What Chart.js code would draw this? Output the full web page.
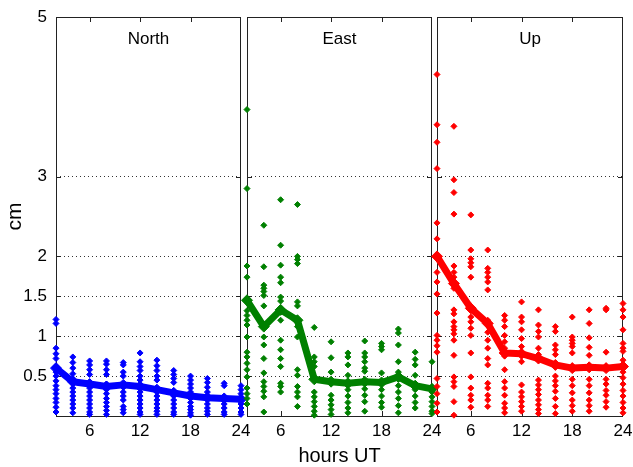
<!DOCTYPE html>
<html>
<head>
<meta charset="utf-8">
<script src="https://cdn.jsdelivr.net/npm/chart.js@4"></script>
<style>
  body { margin: 0; background: #fff; }
  #wrap { position: relative; width: 633px; height: 467px; }
  #wrap canvas { position: absolute; left: 0; top: 0; }
</style>
</head>
<body>
<div id="wrap">
  <canvas id="chart1" width="633" height="467"></canvas>
  <canvas id="chart2" width="633" height="467"></canvas>
  <canvas id="chart3" width="633" height="467"></canvas>
</div>
<script>
const hours = [2, 4, 6, 8, 10, 12, 14, 16, 18, 20, 22, 24];
const xTicks = [6, 12, 18, 24];
const yTicks = [0.5, 1, 1.5, 2, 3, 5];
const panelNames = ['North', 'East', 'Up'];

const northMean = [0.60, 0.43, 0.40, 0.37, 0.39, 0.37, 0.33, 0.29, 0.25, 0.23, 0.22, 0.21];
const eastMean = [1.45, 1.12, 1.33, 1.20, 0.46, 0.43, 0.41, 0.43, 0.42, 0.49, 0.38, 0.34];
const upMean = [2.00, 1.66, 1.35, 1.16, 0.79, 0.78, 0.72, 0.64, 0.60, 0.61, 0.60, 0.62];

// single samples per hour
const northSpread = [
  [1.21, 1.16, 0.85, 0.78, 0.72, 0.62, 0.55, 0.5, 0.44, 0.38, 0.33, 0.28, 0.22, 0.17, 0.11, 0.05],
  [0.74, 0.67, 0.6, 0.53, 0.47, 0.41, 0.35, 0.3, 0.25, 0.2, 0.15, 0.1, 0.04],
  [0.69, 0.64, 0.58, 0.52, 0.4, 0.35, 0.3, 0.25, 0.2, 0.15, 0.1, 0.05, 0.02],
  [0.69, 0.65, 0.58, 0.52, 0.4, 0.33, 0.28, 0.22, 0.17, 0.12, 0.07, 0.02],
  [0.67, 0.64, 0.55, 0.5, 0.36, 0.3, 0.25, 0.2, 0.12, 0.08, 0.04],
  [0.79, 0.68, 0.62, 0.57, 0.5, 0.45, 0.3, 0.25, 0.2, 0.15, 0.1, 0.05, 0.02],
  [0.7, 0.63, 0.57, 0.5, 0.45, 0.25, 0.2, 0.15, 0.1, 0.06, 0.02],
  [0.57, 0.52, 0.47, 0.42, 0.25, 0.2, 0.15, 0.1, 0.05, 0.02],
  [0.5, 0.45, 0.4, 0.35, 0.3, 0.17, 0.12, 0.08, 0.04, 0.01],
  [0.47, 0.42, 0.36, 0.3, 0.15, 0.1, 0.06, 0.02],
  [0.41, 0.38, 0.15, 0.1, 0.05, 0.02],
  [0.38, 0.33, 0.28, 0.15, 0.1, 0.05, 0.02]
];
const eastSpread = [
  [3.84, 2.85, 1.88, 1.74, 1.45, 1.32, 1.26, 1.2, 1.14, 0.99, 0.8, 0.74, 0.66, 0.58, 0.49, 0.35, 0.28, 0.22, 0.15],
  [2.39, 1.87, 1.64, 1.6, 1.56, 1.51, 1.38, 1.12, 0.99, 0.89, 0.72, 0.54, 0.43, 0.37, 0.31, 0.24, 0.05],
  [2.71, 2.14, 1.89, 1.74, 1.67, 1.49, 1.44, 1.33, 1.2, 0.95, 0.83, 0.72, 0.62, 0.41, 0.37, 0.3],
  [2.65, 2.0, 1.96, 1.91, 1.43, 1.38, 1.2, 1.12, 0.99, 0.58, 0.51, 0.37, 0.3, 0.24, 0.12],
  [1.11, 0.74, 0.68, 0.62, 0.46, 0.3, 0.24, 0.18, 0.12, 0.06, 0.01],
  [0.93, 0.73, 0.55, 0.43, 0.26, 0.2, 0.14, 0.08, 0.02],
  [0.79, 0.74, 0.64, 0.51, 0.41, 0.33, 0.25, 0.17, 0.1, 0.04],
  [0.94, 0.79, 0.74, 0.68, 0.6, 0.56, 0.43, 0.34, 0.26, 0.18, 0.06],
  [0.91, 0.87, 0.83, 0.54, 0.42, 0.33, 0.25, 0.17, 0.11],
  [1.09, 1.04, 0.89, 0.68, 0.55, 0.49, 0.38, 0.3, 0.22, 0.13, 0.04],
  [0.8, 0.71, 0.64, 0.51, 0.38, 0.33, 0.25, 0.17, 0.1],
  [0.68, 0.34, 0.3, 0.24, 0.18, 0.12, 0.06, 0.03]
];
const upSpread = [
  [4.28, 3.65, 3.43, 3.1, 2.42, 2.22, 2.0, 1.8, 1.68, 1.53, 1.29, 1.01, 0.95, 0.88, 0.8, 0.47, 0.37, 0.28, 0.16, 0.05],
  [3.63, 2.96, 2.8, 2.53, 1.88, 1.8, 1.74, 1.66, 1.6, 1.33, 1.28, 1.18, 1.12, 1.08, 1.03, 0.95, 0.76, 0.49, 0.43, 0.37, 0.18, 0.01],
  [2.52, 2.08, 1.97, 1.92, 1.87, 1.74, 1.35, 1.24, 1.18, 1.1, 1.01, 0.79, 0.49, 0.35, 0.26, 0.2, 0.11],
  [2.08, 1.85, 1.8, 1.74, 1.68, 1.58, 1.2, 1.05, 0.95, 0.85, 0.72, 0.64, 0.41, 0.35, 0.26, 0.2, 0.12],
  [1.26, 1.2, 1.12, 1.01, 0.93, 0.85, 0.75, 0.58, 0.43, 0.35, 0.26, 0.16, 0.1, 0.04],
  [1.43, 1.24, 1.18, 1.08, 0.97, 0.87, 0.78, 0.68, 0.39, 0.3, 0.24, 0.18, 0.12, 0.06],
  [1.33, 1.14, 1.06, 0.99, 0.85, 0.77, 0.72, 0.45, 0.39, 0.33, 0.27, 0.2, 0.14, 0.08, 0.03],
  [1.12, 1.06, 0.89, 0.83, 0.77, 0.64, 0.5, 0.44, 0.38, 0.31, 0.22, 0.12, 0.03],
  [1.24, 0.99, 0.95, 0.91, 0.87, 0.79, 0.6, 0.46, 0.38, 0.29, 0.2, 0.13, 0.06],
  [1.33, 1.16, 0.98, 0.86, 0.76, 0.61, 0.46, 0.38, 0.29, 0.2, 0.13, 0.06],
  [1.35, 1.33, 0.8, 0.6, 0.46, 0.4, 0.32, 0.26, 0.18, 0.11],
  [1.41, 1.33, 1.24, 1.08, 0.91, 0.85, 0.81, 0.7, 0.62, 0.55, 0.48, 0.4, 0.32, 0.25, 0.17, 0.1, 0.04]
];

const FONT = "'Liberation Sans', Arial, sans-serif";

// frame, inward ticks and the name inside each panel
const panelDecor = {
  id: 'panelDecor',
  beforeDatasetsDraw(chart, args, opts) {
    const {ctx, chartArea: a, scales} = chart;
    ctx.save();
    ctx.strokeStyle = '#222';
    ctx.lineWidth = 1;
    ctx.strokeRect(a.left + 0.5, a.top + 0.5, a.right - a.left - 1, a.bottom - a.top);
    ctx.beginPath();
    yTicks.filter(v => v < 5).forEach(v => {
      const py = Math.round(scales.y.getPixelForValue(v)) + 0.5;
      ctx.moveTo(a.left, py); ctx.lineTo(a.left + 5, py);
      ctx.moveTo(a.right, py); ctx.lineTo(a.right - 5, py);
    });
    xTicks.filter(v => v < 24).forEach(v => {
      const px = Math.round(scales.x.getPixelForValue(v)) + 0.5;
      ctx.moveTo(px, a.top); ctx.lineTo(px, a.top + 5);
      ctx.moveTo(px, a.bottom); ctx.lineTo(px, a.bottom - 5);
    });
    ctx.stroke();
    ctx.restore();
  },
  afterDraw(chart, args, opts) {
    const {ctx, chartArea: a} = chart;
    ctx.save();
    ctx.fillStyle = '#000';
    ctx.font = '17px ' + FONT;
    ctx.textAlign = 'center';
    ctx.textBaseline = 'alphabetic';
    ctx.fillText(opts.text, (a.left + a.right) / 2, a.top + 27);
    ctx.restore();
  }
};

function createPanel(id, name, color, mean, spread, left, right, first, middle) {
  const cloud = [];
  spread.forEach((vals, i) => vals.forEach(v => cloud.push({x: hours[i], y: v})));
  const meanPts = hours.map((h, i) => ({x: h, y: mean[i]}));

  return new Chart(id, {
    type: 'scatter',
    data: {
      datasets: [{
        type: 'line',
        data: meanPts,
        borderColor: color,
        backgroundColor: color,
        borderWidth: 7,
        borderJoinStyle: 'round',
        pointStyle: 'rectRot',
        pointRadius: 5.5,
        pointBorderWidth: 1,
        tension: 0,
        clip: false
      }, {
        data: cloud,
        borderColor: color,
        backgroundColor: color,
        pointStyle: 'rectRot',
        pointRadius: 3,
        pointBorderWidth: 1,
        clip: false
      }]
    },
    options: {
      responsive: false,
      animation: false,
      events: [],
      layout: { padding: { left: left, right: right, top: 17, bottom: 0 } },
      plugins: {
        legend: { display: false },
        tooltip: { enabled: false },
        panelDecor: { text: name }
      },
      scales: {
        x: {
          type: 'linear',
          min: 2, max: 24,
          afterBuildTicks: s => { s.ticks = xTicks.map(v => ({value: v})); },
          afterFit: s => { s.height = 51; },
          grid: { display: false },
          border: { display: false },
          ticks: { color: '#000', padding: -3, maxRotation: 0, autoSkip: false, font: { size: 17, family: FONT } },
          title: { display: middle, text: 'hours UT', color: '#000', padding: { top: 0, bottom: -1 }, font: { size: 20, family: FONT } }
        },
        y: {
          min: 0, max: 5,
          afterBuildTicks: s => { s.ticks = yTicks.map(v => ({value: v})); },
          afterFit: s => { s.width = first ? 56 : 0; s.paddingTop = 0; s.paddingBottom = 0; },
          grid: {
            drawTicks: false,
            color: c => (c.tick && c.tick.value === 5) ? 'rgba(0,0,0,0)' : '#333'
          },
          border: { display: false, dash: [1, 3] },
          ticks: { display: first, color: '#000', padding: 9, font: { size: 17, family: FONT }, callback: v => String(v) },
          title: { display: first, text: 'cm', color: '#000', padding: { top: 3, bottom: 0 }, font: { size: 21, family: FONT } }
        }
      }
    },
    plugins: [panelDecor]
  });
}

createPanel('chart1', panelNames[0], '#0000ff', northMean, northSpread, 0, 392, true, false);
createPanel('chart2', panelNames[1], '#008000', eastMean, eastSpread, 247, 201, false, true);
createPanel('chart3', panelNames[2], '#ff0000', upMean, upSpread, 437, 10, false, false);
</script>
</body>
</html>
